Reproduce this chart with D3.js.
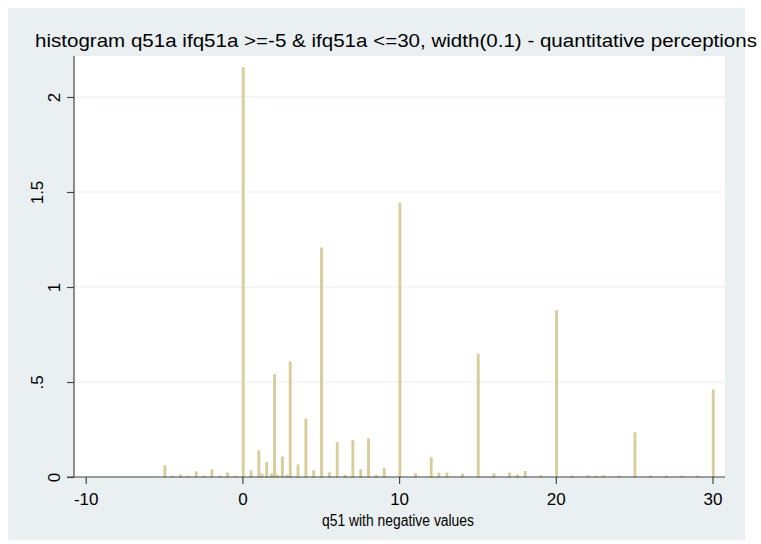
<!DOCTYPE html>
<html><head><meta charset="utf-8">
<script src="https://cdn.jsdelivr.net/npm/d3@7"></script>
<style>body{margin:0;background:#fff} svg{display:block} text{font-family:"Liberation Sans",Arial,Helvetica,sans-serif}</style>
</head><body><svg width="761" height="544"></svg>
<script>
// bin start values (width 0.1) and densities
const binStarts = [-5, -4.5, -4, -3.5, -3, -2.5, -2, -1.5, -1, -0.5,
  0, 0.5, 1, 1.2, 1.5, 1.8, 2, 2.2, 2.5, 2.8, 3, 3.5, 4, 4.5, 5, 5.5, 6, 6.5, 7, 7.5, 8, 8.5, 9,
  10, 11, 12, 12.5, 13, 14, 15, 16, 17, 17.5, 18, 19, 20, 21, 22, 22.5, 23, 24, 25, 26, 27, 28, 29, 30];
const densities = [0.058, 0.004, 0.01, 0.004, 0.026, 0.004, 0.037, 0.004, 0.02, 0.004,
  2.153, 0.032, 0.137, 0.016, 0.075, 0.016, 0.537, 0.008, 0.104, 0.008, 0.605, 0.063, 0.305, 0.032, 1.205, 0.021, 0.18, 0.008, 0.19, 0.037, 0.2, 0.008, 0.044,
  1.44, 0.016, 0.1, 0.019, 0.02, 0.014, 0.645, 0.016, 0.02, 0.01, 0.028, 0.006, 0.874, 0.005, 0.006, 0.004, 0.006, 0.005, 0.232, 0.005, 0.005, 0.005, 0.005, 0.458];
const xTicks = [-10, 0, 10, 20, 30];
const xTickLabels = ["-10", "0", "10", "20", "30"];
const yTicks = [0, 0.5, 1, 1.5, 2];
const yTickLabels = ["0", ".5", "1", "1.5", "2"];
const titleText = "histogram q51a ifq51a >=-5 & ifq51a <=30, width(0.1) - quantitative perceptions";
const xTitleText = "q51 with negative values";

const svg = d3.select("svg");
svg.append("rect").attr("x", 8).attr("y", 8).attr("width", 737).attr("height", 532).attr("fill", "#eaf0f2");

const x = d3.scaleLinear().domain([-10, 30]).range([85.7, 712.5]);
const y = d3.scaleLinear().domain([0, 2]).range([477, 97]);

// plot region
svg.append("rect").attr("x", 74).attr("y", 56).attr("width", 651).attr("height", 421).attr("fill", "#ffffff");

// gridlines
svg.append("g").selectAll("line").data(yTicks.filter(d => d > 0)).join("line")
  .attr("x1", 74).attr("x2", 725).attr("y1", d => y(d)).attr("y2", d => y(d))
  .attr("stroke", "#eaf0f2").attr("stroke-width", 1.2);

// bars
svg.append("g").selectAll("rect").data(binStarts.map((b, i) => ({b, d: densities[i]}))).join("rect")
  .attr("x", d => x(d.b))
  .attr("width", d => x(d.b + 0.1) - x(d.b))
  .attr("y", d => y(d.d))
  .attr("height", d => y(0) - y(d.d))
  .attr("fill", "#d8d0a0").attr("stroke", "#d6cd98").attr("stroke-width", 1.3);

// y axis
const yAxis = svg.append("g").attr("transform", "translate(74,0)")
  .call(d3.axisLeft(y).tickValues(yTicks).tickSize(7).tickFormat((d, i) => yTickLabels[i]));
yAxis.select(".domain").attr("d", "M0,56V477").attr("stroke", "#444").attr("stroke-width", 1.2);
yAxis.selectAll(".tick line").attr("stroke", "#444").attr("stroke-width", 1.2);
yAxis.selectAll(".tick text")
  .attr("x", 0).attr("y", 0).attr("dy", null)
  .attr("transform", (d, i) => `translate(${yTickLabels[i].includes(".") ? -31 : -14},0) rotate(-90)`)
  .attr("text-anchor", "middle")
  .attr("font-size", 17).attr("fill", "#000").attr("font-family", "Liberation Sans, Arial, sans-serif");

// x axis
const xAxis = svg.append("g").attr("transform", "translate(0,477)")
  .call(d3.axisBottom(x).tickValues(xTicks).tickSize(7).tickFormat((d, i) => xTickLabels[i]));
xAxis.select(".domain").attr("d", "M67,0H725").attr("stroke", "#444").attr("stroke-width", 1.2);
xAxis.selectAll(".tick line").attr("stroke", "#444").attr("stroke-width", 1.2);
xAxis.selectAll(".tick text").attr("y", 28).attr("dy", null)
  .attr("font-size", 17).attr("fill", "#000").attr("font-family", "Liberation Sans, Arial, sans-serif");

// titles
svg.append("text").attr("x", 396).attr("y", 47).attr("text-anchor", "middle")
  .attr("font-size", 18.5).attr("fill", "#000")
  .attr("textLength", 722).attr("lengthAdjust", "spacingAndGlyphs").text(titleText);
svg.append("text").attr("x", 398).attr("y", 526).attr("text-anchor", "middle")
  .attr("font-size", 16).attr("fill", "#000")
  .attr("textLength", 152).attr("lengthAdjust", "spacingAndGlyphs").text(xTitleText);
</script></body></html>
